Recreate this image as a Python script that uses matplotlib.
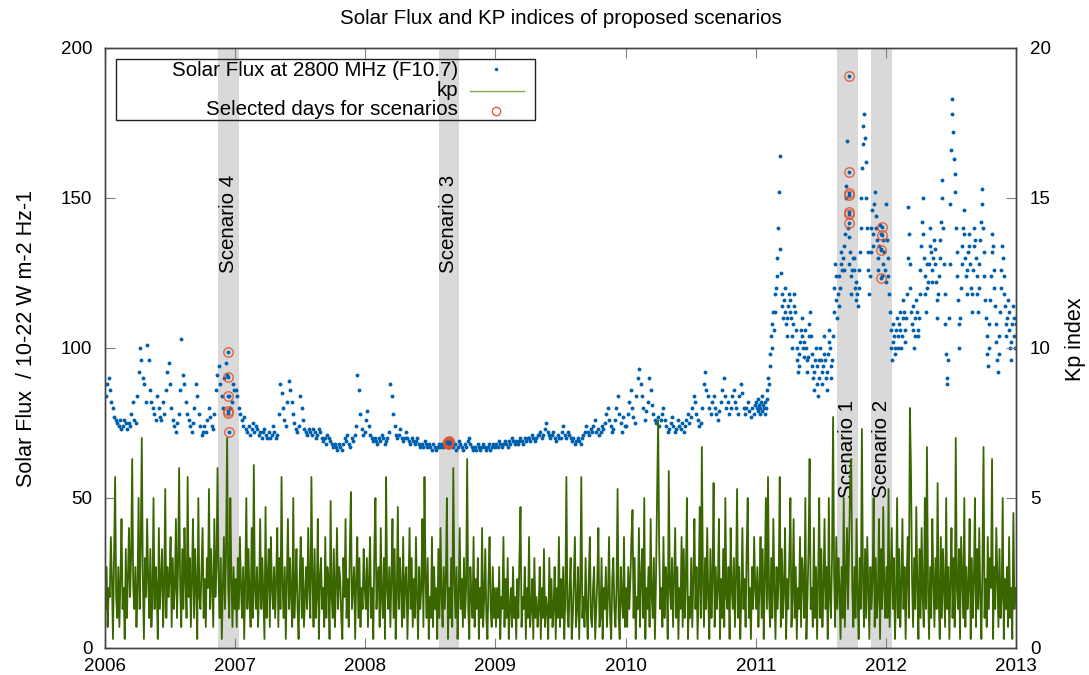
import numpy as np
import matplotlib.pyplot as plt
from matplotlib.patches import Rectangle

plt.rcParams['font.family'] = ['Liberation Sans', 'DejaVu Sans']

years = [2006, 2007, 2008, 2009, 2010, 2011, 2012]

# daily solar flux F10.7 (4-day steps, 2-day steps for 2011-2012)
flux_2006 = [84, 88, 90, 86, 82, 80, 77, 76,
             75, 74, 76, 73, 74, 76, 75,
             73, 75, 74, 78, 82, 76, 75, 84,
             92, 100, 96, 90, 88, 82, 101,
             96, 86, 82, 80, 78, 76, 84, 80,
             77, 76, 82, 78, 86, 92, 95,
             88, 80, 76, 74, 72, 75, 78, 86,
             103, 91, 88, 82, 78, 76, 74, 72,
             75, 80, 88, 84, 78, 74, 71,
             72, 74, 72, 76, 80, 77, 74, 73,
             78, 86, 91, 94, 88, 84, 80,
             90, 95, 91, 84, 80, 82, 88, 86]
flux_2007 = [86, 84, 80, 78, 76, 74, 77, 73,
             72, 74, 71, 73, 75, 72, 74,
             73, 71, 72, 70, 72, 73, 71, 70,
             72, 70, 71, 74, 72, 70, 71,
             78, 88, 85, 80, 76, 74, 82, 89,
             86, 82, 78, 75, 73, 72, 74,
             84, 80, 76, 73, 72, 71, 73, 72,
             71, 73, 72, 70, 71, 73, 72, 70,
             69, 70, 68, 71, 70, 69, 68,
             67, 68, 67, 66, 68, 67, 66, 68,
             70, 69, 71, 68, 67, 70, 69,
             71, 74, 91, 86, 78, 73, 71, 72]
flux_2008 = [76, 79, 74, 71, 70, 69, 70, 69,
             68, 70, 69, 71, 70, 68, 69,
             70, 72, 88, 84, 78, 74, 71, 70,
             71, 73, 70, 69, 70, 72, 70,
             69, 68, 70, 69, 68, 69, 70, 68,
             67, 68, 67, 69, 68, 67, 68,
             67, 66, 68, 67, 66, 67, 68, 67,
             68, 67, 68, 69, 68, 67, 68, 69,
             67, 68, 66, 67, 69, 68, 67,
             66, 68, 67, 69, 70, 68, 67, 66,
             67, 66, 68, 67, 66, 67, 68,
             67, 66, 67, 68, 66, 67, 68, 67]
flux_2009 = [68, 67, 69, 68, 67, 68, 69, 68,
             67, 69, 68, 70, 69, 68, 69,
             68, 69, 70, 69, 68, 70, 69, 70,
             70, 69, 71, 70, 69, 70, 71,
             71, 72, 70, 71, 73, 75, 72, 71,
             70, 71, 72, 70, 69, 71, 70,
             70, 72, 74, 71, 70, 72, 71, 70,
             69, 70, 68, 69, 70, 69, 68, 70,
             71, 72, 74, 72, 71, 73, 72,
             74, 76, 72, 73, 71, 72, 74, 73,
             75, 78, 80, 76, 74, 72, 73,
             76, 80, 84, 78, 75, 72, 77, 74]
flux_2010 = [74, 78, 82, 86, 80, 77, 75, 84,
             90, 93, 88, 84, 80, 76, 79,
             82, 90, 86, 81, 78, 76, 75, 77,
             74, 76, 78, 80, 76, 74, 72,
             73, 75, 77, 74, 72, 73, 76, 74,
             73, 75, 72, 74, 76, 78, 75,
             77, 80, 84, 82, 78, 76, 74, 75,
             80, 88, 92, 86, 84, 80, 78, 82,
             84, 80, 78, 76, 79, 82, 86,
             90, 84, 80, 82, 78, 80, 84, 86,
             82, 80, 78, 84, 88, 85, 80,
             78, 80, 82, 79, 77, 80, 78, 81]
flux_2011 = [82, 80, 79, 83, 81, 78, 80, 82, 79, 84, 81, 80, 78, 82, 80, 83,
             86, 90, 88, 94, 98, 104, 100, 108, 112, 106, 118, 112, 120, 124,
             130, 140, 152, 164, 133, 125, 118, 114, 110, 116, 120, 112, 108, 104, 110,
             114, 118, 116, 112, 110, 104, 100, 108, 114, 118, 112, 106, 100, 96, 92,
             94, 98, 102, 106, 110, 104, 100, 97, 102, 106, 100, 96, 92, 97, 104, 108,
             112, 104, 98, 94, 90, 86, 92, 96, 100, 94, 88, 84, 90, 96, 100,
             96, 92, 88, 94, 98, 104, 96, 90, 86, 92, 98, 102, 106, 100, 94,
             90, 96, 104, 112, 120, 128, 124, 116, 110, 118, 124, 114, 120, 128, 132, 126,
             130, 134, 126, 138, 150, 154, 169, 140, 137, 128, 132, 124, 118, 126, 130,
             130, 126, 120, 116, 122, 118, 114, 120, 126, 132, 140, 150, 160, 168, 174,
             178, 170, 162, 150, 140, 132, 126, 118, 124, 132, 140, 146, 138, 134, 148,
             152, 144, 140, 136, 130, 126, 134, 141, 138, 133, 124, 128, 136, 132, 126, 122]
flux_2012 = [148, 136, 130, 124, 118, 112, 106, 100, 96, 102, 108, 104, 98, 100, 106, 110,
             104, 100, 108, 112, 106, 100, 104, 110, 116, 112, 106, 102, 110, 118,
             130, 147, 138, 128, 120, 112, 108, 114, 106, 100, 104, 110, 116, 112, 106,
             104, 110, 118, 126, 134, 142, 150, 138, 130, 124, 118, 112, 120, 128, 122,
             128, 134, 140, 132, 126, 122, 130, 136, 133, 128, 122, 116, 110, 118, 124, 130,
             136, 142, 150, 156, 140, 128, 118, 108, 98, 90, 88, 96, 110, 128, 148,
             166, 183, 178, 172, 163, 158, 152, 140, 132, 124, 116, 108, 100, 110, 120,
             128, 134, 140, 146, 138, 130, 124, 118, 126, 132, 138, 134, 128, 120, 112, 118,
             126, 134, 140, 136, 130, 124, 118, 112, 120, 128, 136, 142, 148, 153, 140,
             132, 124, 116, 110, 104, 98, 94, 100, 108, 116, 124, 132, 138, 134, 126,
             120, 114, 108, 102, 96, 92, 98, 104, 112, 120, 126, 134, 130, 124, 118,
             114, 108, 104, 110, 116, 112, 106, 100, 96, 102, 108, 114, 110, 104, 100, 108]

# Kp index (3-day steps)
kp_2006 = [1.3, 2.7, 0.7, 2, 1.7, 3.7, 2.3, 0.3, 3, 5.7, 1.7, 1, 2.7, 0.7, 2.3, 4.3, 1.3, 2, 0.3, 3.3,
           1, 2.3, 4, 1.7, 3, 6.3, 2, 1.3, 2.7, 0.7, 2, 5, 1.3, 3.3, 7, 2.3, 0.3, 3, 1.7, 4.3,
           2.3, 1, 3.3, 0.7, 1.7, 5, 1.3, 2.7, 2, 0.3, 4, 1.3, 2.3, 3.3, 0.7, 2, 5.3, 1, 2.7, 1.7,
           2.3, 3.7, 0.7, 3, 1.3, 2, 4.3, 1, 2.7, 6, 2, 0.7, 3.3, 1.3, 4, 2.3, 1, 5.7, 1.7, 3,
           0.7, 2.3, 4.3, 1, 3.3, 2, 0.3, 5, 1.7, 1.3, 2.7, 4, 1, 2.3, 0.7, 3, 2, 5.3, 1.3, 3.3,
           2, 0.7, 4.3, 1.7, 2.7, 6, 2.3, 1, 3, 0.3, 2, 3.7, 1.3, 3.3, 7, 2, 1, 5, 2.3, 0.7, 2.7, 1.3]
kp_2007 = [2.3, 0.7, 3, 1.3, 3.7, 2, 1, 2.7, 0.3, 2.3, 5, 1.3, 3.3, 1.7, 0.7, 4, 1, 6.1, 2, 1.3,
           2.7, 0.7, 2, 4.3, 1.3, 3, 1.7, 0.3, 4.7, 1, 2.3, 3.3, 0.7, 3.7, 2, 1.3, 2.7, 1, 2.3, 4,
           0.7, 3, 1.3, 5.7, 2, 1, 2.7, 0.3, 2.3, 4.3, 1.3, 3, 1.7, 0.7, 5, 1, 2, 3.3, 1.3, 0.3,
           2.3, 3.7, 1, 3, 0.7, 1.7, 2.7, 1.3, 4, 2, 1, 5.7, 2.3, 0.7, 3.3, 1, 1.7, 4.3, 0.3, 2.3,
           3, 1.3, 2, 0.7, 3.7, 1, 2.7, 2.3, 0.3, 4.9, 1.7, 1, 3.3, 0.7, 2, 4, 1.3, 2.7, 2.3, 1,
           0.3, 3, 1.7, 4.3, 1, 2.3, 0.7, 3.3, 5.2, 1.3, 2, 2.7, 0.3, 2.3, 3.7, 1, 3, 0.7, 2, 1.3, 3.3, 2]
kp_2008 = [1.3, 3, 0.7, 2.3, 3.7, 1, 2, 0.3, 3.3, 5, 1.3, 2.3, 2.7, 0.7, 4, 1.7, 1, 3, 0.3, 5.7,
           2, 1.3, 2.7, 0.7, 2.3, 4.3, 1, 3.3, 0.3, 1.7, 4.7, 1.3, 3, 2, 0.7, 3.7, 1, 2.3, 2.7, 0.3,
           2, 4, 1.3, 3, 0.7, 2.3, 1, 3.7, 1.7, 0.3, 2.7, 1.3, 2, 4.3, 0.7, 5.7, 2.3, 1, 3, 0.3,
           1.7, 1, 3.7, 0.7, 2.7, 1.3, 2, 0.3, 3.3, 1, 4, 1.7, 0.7, 2.7, 1.3, 2.3, 5, 0.3, 2, 1,
           3, 0.7, 6, 2.3, 1, 2.7, 0.3, 1.7, 4, 1.3, 2.3, 0.7, 3, 1, 2, 6.3, 1.3, 0.3, 2.7, 1.7,
           1, 3.7, 0.7, 2.3, 1.3, 3, 0.3, 2, 1, 4, 0.7, 1.7, 3.3, 1, 0.3, 2.3, 3.7, 1.3, 0.7, 2.7, 1, 2]
kp_2009 = [0.7, 2, 1, 2.7, 0.3, 1.7, 1.3, 3.7, 0.7, 2.3, 1, 3, 0.3, 1.3, 2, 0.7, 2.7, 1, 1.7, 0.3,
           2.3, 1, 3, 4.7, 0.7, 1.7, 1.3, 2.7, 0.3, 2, 1, 3.7, 0.7, 1.3, 2.3, 0.3, 3, 1, 1.7, 0.7,
           1.3, 2.7, 0.3, 2, 1, 3.3, 0.7, 1.7, 1.3, 0.3, 3, 1, 2.3, 0.7, 1.3, 2.7, 0.3, 2, 1, 3.7,
           0.7, 2.3, 1, 2.7, 0.3, 1.7, 5.7, 1.3, 0.7, 2, 3, 0.3, 1, 2.3, 3.7, 0.7, 1.3, 2.7, 0.3, 2,
           5.7, 1, 1.7, 0.7, 3, 1.3, 0.3, 2.3, 3.7, 1, 0.7, 2, 2.7, 0.3, 1.3, 2.3, 4, 0.7, 1, 3,
           0.3, 2, 1.3, 2.7, 0.7, 1.7, 3.7, 1, 0.3, 2.3, 3, 1.3, 0.7, 2, 5.3, 1, 0.3, 2.7, 1.7, 1, 3.7, 0.7]
kp_2010 = [2, 0.7, 2.7, 1.3, 2.3, 3.7, 4.6, 1, 3, 0.3, 1.7, 1.3, 4, 0.7, 2.3, 3.3, 1, 5, 0.3, 2,
           1.3, 2.7, 0.7, 4.3, 1.7, 1, 3, 0.3, 2.3, 5, 7.6, 3.3, 1.3, 2, 0.7, 3.7, 1, 2.7, 2.3, 0.3,
           5.9, 2, 1.3, 3, 0.7, 2.3, 4, 1, 2.7, 0.3, 2, 1.3, 3.7, 0.7, 3.3, 1, 2.3, 5, 0.3, 1.7,
           1, 3, 0.7, 2.3, 4.3, 1.3, 2.7, 0.3, 2, 4.7, 1, 6.7, 2.3, 0.7, 3, 1.3, 4, 1.7, 0.3, 3.3,
           1, 2.3, 5.5, 0.7, 2.7, 1.3, 2, 4.3, 0.3, 2.3, 1, 3.3, 0.7, 5, 1.7, 1.3, 2.7, 0.3, 4, 2,
           1.3, 3, 0.7, 2.3, 5.3, 1, 2.7, 0.3, 1.7, 4, 1.3, 2.3, 0.7, 3.3, 5, 1, 2, 0.3, 2.7, 1.3, 3.7, 2]
kp_2011 = [1.3, 2.7, 0.7, 2, 3.7, 1, 3.3, 0.3, 2.3, 5, 1.3, 5.7, 1.7, 0.7, 3, 1, 4.3, 2, 0.3, 2.7,
           1.3, 2.3, 5.7, 0.7, 3.3, 1, 2, 4, 0.3, 2.3, 1.3, 3, 5, 0.7, 1.7, 4.3, 1, 2.7, 0.3, 2,
           1.3, 3.7, 0.7, 3, 2.3, 1, 5, 0.3, 1.7, 3.3, 6.3, 1.3, 2, 0.7, 4, 1, 2.7, 0.3, 2.3, 5,
           1, 3.3, 0.7, 2, 4.3, 1.3, 2.7, 0.3, 5, 1.7, 1, 3, 7.7, 2.3, 0.7, 3.7, 1.3, 3, 2, 0.3,
           2.7, 1, 5, 0.7, 2.3, 4, 1.3, 3.3, 5.5, 6.3, 2, 0.7, 2.7, 1, 4.3, 1.7, 0.3, 3, 1.3, 7.3,
           2.3, 0.7, 3.3, 1, 3.7, 2, 0.3, 2.7, 1.3, 2.3, 5, 0.7, 3, 1, 1.7, 4.3, 0.3, 3.3, 1.3, 4.7, 2, 1]
kp_2012 = [2.7, 1, 5.3, 0.7, 2.3, 4, 1.3, 3, 0.3, 1.7, 5, 1, 3.3, 0.7, 2, 4.3, 1.3, 2.7, 0.3, 2.3,
           3.7, 1, 8, 6, 2.3, 0.7, 3, 1.3, 4.7, 2, 0.3, 3.3, 1, 4, 1.7, 0.7, 5, 1.3, 6.7, 2,
           0.3, 2.7, 1, 4.3, 2.3, 0.7, 3, 1.3, 5.5, 1.7, 0.3, 3.7, 1, 3.3, 2, 0.7, 5, 1.3, 2.7, 0.3,
           2.3, 4, 1, 3, 0.7, 7, 2, 1.3, 3.3, 0.3, 3.7, 2.3, 1, 5, 0.7, 2.7, 1.3, 2, 4.3, 0.3,
           3, 1, 2.3, 5, 0.7, 3.3, 1.3, 4, 1.7, 0.3, 2.7, 6.7, 1, 2.3, 0.7, 3.7, 1.3, 3, 2, 6.3,
           0.3, 2.7, 1.3, 4, 2.3, 0.7, 3.3, 1, 1.7, 5, 0.3, 2.3, 1.3, 2.7, 0.7, 3.7, 1, 2, 0.3, 4.5, 1.3, 2]

flux_by_year = [flux_2006, flux_2007, flux_2008, flux_2009, flux_2010, flux_2011, flux_2012]
kp_by_year = [kp_2006, kp_2007, kp_2008, kp_2009, kp_2010, kp_2011, kp_2012]

# selected days (decimal year, flux)
sel_dates = [2006.943, 2006.945, 2006.947, 2006.946, 2006.948, 2006.950,
             2008.632, 2008.634, 2008.636, 2008.638, 2008.640,
             2011.716, 2011.718, 2011.717, 2011.719, 2011.716, 2011.718, 2011.717,
             2011.968, 2011.970, 2011.966, 2011.962]
sel_flux = [98.7, 90.3, 84.0, 79.1, 78.4, 72.0,
            68.5, 67.9, 68.8, 68.2, 69.0,
            190.8, 158.6, 151.5, 151.0, 145.2, 144.6, 141.6,
            140.4, 137.5, 132.8, 123.2]

band_names = ['Scenario 4', 'Scenario 3', 'Scenario 1', 'Scenario 2']
band_start = [2006.865, 2008.563, 2011.623, 2011.884]
band_end = [2007.026, 2008.722, 2011.787, 2012.045]
band_label_y = [125, 125, 50, 50]

x_ticks = [2006, 2007, 2008, 2009, 2010, 2011, 2012, 2013]
flux_ticks = [0, 50, 100, 150, 200]
kp_ticks = [0, 5, 10, 15, 20]


def spread(year, values):
    n = len(values)
    return year + (np.arange(n) + 0.5) / n


flux_x = np.concatenate([spread(y, v) for y, v in zip(years, flux_by_year)])
flux_y = np.concatenate(flux_by_year)
kp_x = np.concatenate([spread(y, v) for y, v in zip(years, kp_by_year)])
kp_y = np.concatenate(kp_by_year)

blue = '#0060ad'
green = '#3a6600'
red = '#e0502a'
big = 14.8

fig = plt.figure(figsize=(10.89, 6.75), dpi=100)
ax = fig.add_axes([0.0964, 0.04, 0.8366, 0.8889])
ax2 = ax.twinx()

for s, e, name, ly in zip(band_start, band_end, band_names, band_label_y):
    ax.axvspan(s, e, color='#d9d9d9', lw=0, zorder=0)
    ax.text((s + e) / 2, ly, name, rotation=90, ha='center', va='bottom',
            fontsize=big, zorder=5)

ax.plot(flux_x, flux_y, 'o', color=blue, ms=2.8, mew=0, zorder=2)
ax.plot(sel_dates, sel_flux, 'o', color=blue, ms=2.8, mew=0, zorder=3)
ax.plot(sel_dates, sel_flux, 'o', mfc='none', mec=red, ms=6.8, mew=1.0, alpha=0.85, zorder=4)

ax2.plot(kp_x, kp_y, color=green, lw=1.3, alpha=1.0)

ax.set_xlim(2006, 2013)
ax.set_ylim(0, 200)
ax2.set_ylim(0, 20)
ax.set_xticks(x_ticks)
ax.set_yticks(flux_ticks)
ax2.set_yticks(kp_ticks)

ax.tick_params(axis='both', direction='in', length=7, width=0.8, color='#808080',
               labelsize=13.5, top=True, right=False)
ax.tick_params(axis='y', pad=9)
ax.tick_params(axis='x', pad=7)
ax2.tick_params(axis='y', direction='in', length=7, width=0.8, color='#808080',
                labelsize=13.5, pad=10)
for a in (ax, ax2):
    for sp in a.spines.values():
        sp.set_color('#444444')
        sp.set_linewidth(1)

ax.set_ylabel('Solar Flux  / 10-22 W m-2 Hz-1', fontsize=15.5)
ax.yaxis.set_label_coords(-0.075, 0.515)
ax2.set_ylabel('Kp index', fontsize=15.5)
ax2.yaxis.set_label_coords(1.054, 0.515)
ax.text(0.5, 1.049, 'Solar Flux and KP indices of proposed scenarios', transform=ax.transAxes,
        ha='center', va='center', fontsize=big)

# gnuplot style key
ax2.add_patch(Rectangle((0.0117, 0.88), 0.4605, 0.102, transform=ax.transAxes,
                        fill=False, edgecolor='#222222', lw=1, zorder=10))
key_labels = ['Solar Flux at 2800 MHz (F10.7)', 'kp', 'Selected days for scenarios']
key_rows = [0.963, 0.929, 0.897]
for lab, ry in zip(key_labels, key_rows):
    ax2.text(0.3875, ry, lab, transform=ax.transAxes, ha='right', va='center',
             fontsize=big, zorder=11)
ax2.plot([0.429], [0.965], 'o', color=blue, ms=2.5, mew=0, transform=ax.transAxes, zorder=11)
ax2.plot([0.401, 0.460], [0.929, 0.929], color='#7fae4a', lw=1, transform=ax.transAxes, zorder=11)
ax2.plot([0.429], [0.895], 'o', mfc='none', mec=red, ms=6, mew=0.9, transform=ax.transAxes, zorder=11)

fig.savefig('out.png', dpi=100)
